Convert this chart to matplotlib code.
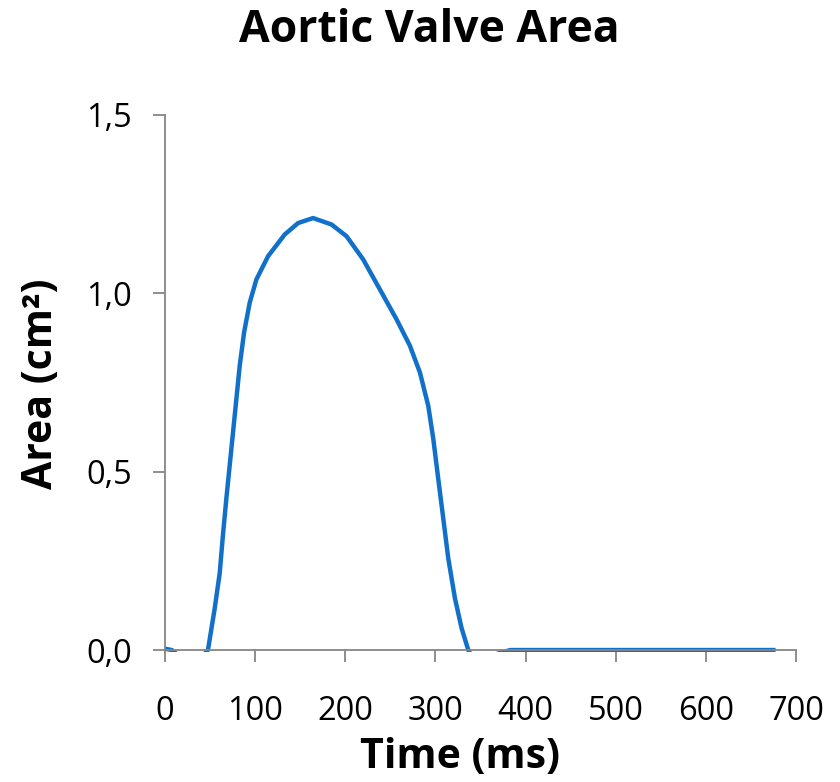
import numpy as np
import matplotlib.pyplot as plt

# values (time in ms, area in cm²)
time_ms = [0, 8, 15, 30, 48, 55.5, 61, 64.7, 68.4, 72.1, 75.8, 79.5, 83.2,
           88, 94.3, 101.7, 114.6, 133.1, 147.9, 164.5, 184.9, 201.6, 220,
           238.5, 257, 271.8, 282.9, 292.1, 297.7, 303.2, 308.8, 314.3,
           321.7, 329.1, 336.5, 345, 355, 369, 383, 400, 450, 500, 550,
           600, 650, 677]
area_cm2 = [0.004, 0.0, -0.015, -0.05, 0.0, 0.117, 0.215, 0.325, 0.425,
            0.518, 0.611, 0.704, 0.797, 0.890, 0.974, 1.039, 1.104, 1.165,
            1.197, 1.211, 1.193, 1.160, 1.095, 1.011, 0.927, 0.853, 0.778,
            0.685, 0.592, 0.480, 0.368, 0.257, 0.145, 0.061, 0.0, -0.04,
            -0.05, -0.01, 0.0, 0.0, 0.0, 0.0, 0.0, 0.0, 0.0, 0.0]
x_ticks = [0, 100, 200, 300, 400, 500, 600, 700]
y_ticks = [0.0, 0.5, 1.0, 1.5]

plt.rcParams['font.family'] = ['Open Sans', 'DejaVu Sans']

fig = plt.figure(figsize=(8.4, 7.82), dpi=100)
ax = fig.add_axes([0.196, 0.166, 0.752, 0.687])

ax.plot(time_ms, area_cm2, color="#1170C9", linewidth=3.2,
        solid_capstyle="butt", solid_joinstyle="round")

ax.set_xlim(0, 700)
ax.set_ylim(-0.006, 1.5)
ax.spines["bottom"].set_position(("data", 0))
ax.spines["top"].set_visible(False)
ax.spines["right"].set_visible(False)
for s in ["left", "bottom"]:
    ax.spines[s].set_color("#868686")
    ax.spines[s].set_linewidth(1.3)

ax.set_xticks(x_ticks)
ax.set_yticks(y_ticks)
ax.set_yticklabels([f"{v:.1f}".replace(".", ",") for v in y_ticks])
ax.tick_params(axis="both", direction="out", length=8.5, width=1.3, color="#868686",
               labelsize=23.5)
ax.tick_params(axis="x", pad=24)
ax.tick_params(axis="y", pad=15)

ax.set_xlabel("Time (ms)", fontsize=29.5, fontweight="bold", va="center")
ax.xaxis.set_label_coords(0.4675, -0.1955)
ax.set_ylabel("Area (cm²)", fontsize=29.5, fontweight="bold", va="center")
ax.yaxis.set_label_coords(-0.195, 0.499)
fig.text(0.511, 0.961, "Aortic Valve Area", ha="center", va="center",
         fontsize=32, fontweight="bold")

fig.savefig("out.png", dpi=100)
